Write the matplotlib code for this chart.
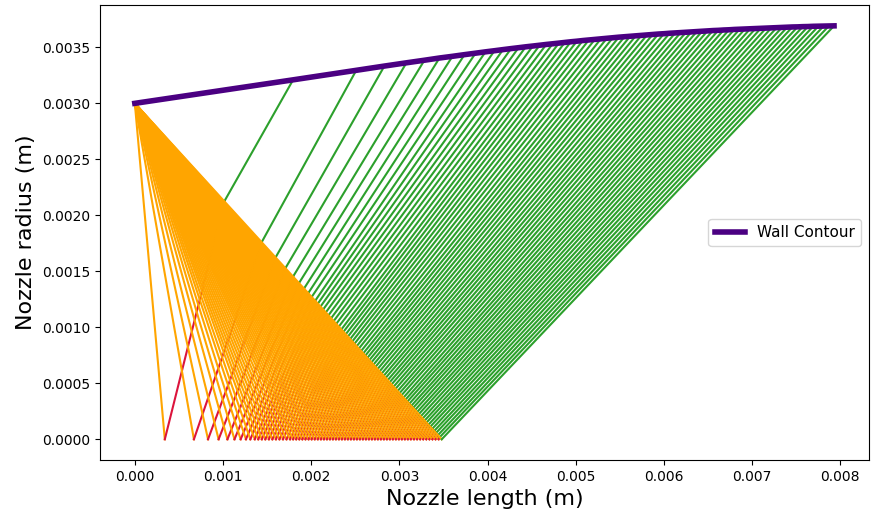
import numpy as np
import matplotlib.pyplot as plt

# all lengths in mm, converted to m below
throat_r = 3.0

# where each expansion line from the throat corner meets the axis
axis_x = [0.34, 0.67, 0.83, 0.95, 1.05, 1.13, 1.20, 1.26, 1.31, 1.36,
          1.40, 1.44, 1.48, 1.52, 1.56, 1.60, 1.64, 1.68, 1.72, 1.76,
          1.795, 1.83, 1.865, 1.90, 1.935, 1.97, 2.005, 2.04, 2.075, 2.11,
          2.144, 2.178, 2.212, 2.246, 2.28, 2.314, 2.348, 2.382, 2.416, 2.45,
          2.484, 2.518, 2.552, 2.586, 2.62, 2.654, 2.688, 2.722, 2.756, 2.79,
          2.824, 2.858, 2.892, 2.926, 2.96, 2.994, 3.028, 3.062, 3.096, 3.13,
          3.165, 3.20, 3.235, 3.27, 3.305, 3.34, 3.375, 3.41, 3.445, 3.48]

# height where each reflected line reaches the last expansion line
hyp_y = [2.125, 1.76, 1.624, 1.528, 1.453, 1.395, 1.346, 1.305, 1.271, 1.237,
         1.211, 1.185, 1.159, 1.133, 1.107, 1.081, 1.056, 1.031, 1.006, 0.981,
         0.960, 0.938, 0.917, 0.895, 0.874, 0.853, 0.831, 0.810, 0.788, 0.767,
         0.747, 0.727, 0.707, 0.687, 0.667, 0.647, 0.627, 0.607, 0.587, 0.567,
         0.548, 0.528, 0.509, 0.490, 0.470, 0.451, 0.431, 0.412, 0.393, 0.373,
         0.354, 0.336, 0.317, 0.298, 0.280, 0.261, 0.242, 0.224, 0.205, 0.186,
         0.167, 0.149, 0.130, 0.112, 0.093, 0.074, 0.056, 0.037, 0.019, 0.0]

# wall points
wall_x = [1.795, 2.511, 2.830, 3.080, 3.284, 3.455, 3.602, 3.739, 3.864, 3.977,
          4.079, 4.176, 4.267, 4.352, 4.434, 4.514, 4.591, 4.666, 4.739, 4.809,
          4.877, 4.945, 5.013, 5.081, 5.149, 5.217, 5.285, 5.353, 5.421, 5.489,
          5.553, 5.617, 5.681, 5.745, 5.809, 5.873, 5.937, 6.001, 6.065, 6.129,
          6.190, 6.251, 6.312, 6.373, 6.434, 6.495, 6.556, 6.617, 6.678, 6.739,
          6.799, 6.859, 6.919, 6.979, 7.039, 7.099, 7.159, 7.219, 7.279, 7.339,
          7.398, 7.457, 7.516, 7.575, 7.634, 7.693, 7.752, 7.811, 7.870, 7.929]
wall_y = [3.210, 3.295, 3.333, 3.362, 3.385, 3.405, 3.420, 3.435, 3.448, 3.460,
          3.470, 3.480, 3.489, 3.497, 3.505, 3.512, 3.519, 3.526, 3.532, 3.538,
          3.544, 3.550, 3.555, 3.561, 3.566, 3.571, 3.576, 3.581, 3.586, 3.591,
          3.595, 3.599, 3.603, 3.607, 3.611, 3.615, 3.619, 3.622, 3.626, 3.629,
          3.632, 3.635, 3.638, 3.641, 3.644, 3.647, 3.650, 3.652, 3.655, 3.657,
          3.660, 3.662, 3.664, 3.666, 3.668, 3.670, 3.672, 3.674, 3.676, 3.678,
          3.680, 3.682, 3.683, 3.685, 3.686, 3.688, 3.689, 3.690, 3.691, 3.692]

mm = 1e-3
r_t = throat_r * mm
ax_pts = np.array(axis_x) * mm
hy = np.array(hyp_y) * mm
hx = ax_pts[-1] * (1 - hy / r_t)   # points lie on the last expansion line
wx = np.array(wall_x) * mm
wy = np.array(wall_y) * mm

fig, ax = plt.subplots(figsize=(8.76, 5.18), dpi=100)
fig.subplots_adjust(left=0.114, right=0.992, bottom=0.112, top=0.990)

for j in range(len(axis_x)):
    ax.plot([0, ax_pts[j]], [r_t, 0], color='orange', lw=1.5)
    ax.plot([ax_pts[j], hx[j]], [0, hy[j]], color='crimson', lw=1.5)
    ax.plot([hx[j], wx[j]], [hy[j], wy[j]], color='tab:green', lw=1.5)

ax.plot(np.r_[0, wx], np.r_[r_t, wy], color='indigo', lw=4, label='Wall Contour')

ax.set_xlabel('Nozzle length (m)', fontsize=16)
ax.set_ylabel('Nozzle radius (m)', fontsize=16)
ax.legend(loc='center right', fontsize=11)
fig.savefig('out.png')
